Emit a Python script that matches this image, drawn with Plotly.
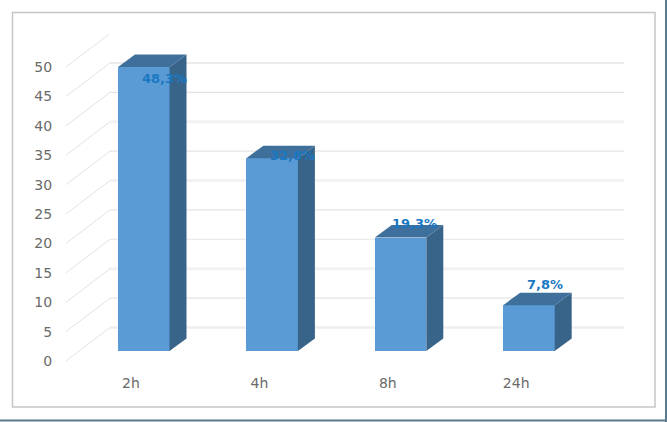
import plotly.graph_objects as go

categories = ["2h", "4h", "8h", "24h"]
values = [48.3, 32.8, 19.3, 7.8]
value_labels = ["48,3%", "32,8%", "19,3%", "7,8%"]
y_ticks = [0, 5, 10, 15, 20, 25, 30, 35, 40, 45, 50]

W, H = 667, 422
L, R, T, B = 66, 624, 34, 361
CAT_PX = 128.4
X0_PX = 131
Y_PX = 5.88

def ux(px):
    return px / CAT_PX

def uy(px):
    return px / Y_PX

wall_dx, wall_dy = ux(44), uy(33.5)
bar_dx, bar_dy = ux(17), uy(12.5)
lift = uy(10)
bar_left = ux(-13)
bar_w = ux(51.5)

positions = list(range(len(categories)))

# Styles of the back-wall lines, from value 0 up to value 50
grid_w = [2.5, 1, 3, 1, 1, 3, 1, 3, 1, 1.5, 1]
grid_c = ["#eeeeee", "#dddddd", "#f2f2f2", "#e6e6e6", "#dddddd", "#f2f2f2",
          "#dddddd", "#f2f2f2", "#dddddd", "#e4e4e4", "#e4e4e4"]

shapes = []
for t, w, c in zip(y_ticks, grid_w, grid_c):
    shapes.append(dict(type="line", layer="below", xref="x", yref="y",
                       x0=(L - X0_PX) / CAT_PX, y0=t,
                       x1=(L - X0_PX) / CAT_PX + wall_dx, y1=t + wall_dy,
                       line=dict(color="#e2e2e2", width=1)))
    shapes.append(dict(type="line", layer="below", xref="x", yref="y",
                       x0=(L - X0_PX) / CAT_PX + wall_dx, y0=t + wall_dy,
                       x1=(R - X0_PX) / CAT_PX, y1=t + wall_dy,
                       line=dict(color=c, width=w)))

def px_x(p):
    return (p - L) / (R - L)

def px_y(p):
    return (B - p) / (B - T)

shapes.append(dict(type="rect", layer="below", xref="paper", yref="paper",
                   x0=px_x(12.5), x1=px_x(655), y0=px_y(407), y1=px_y(12.5),
                   line=dict(color="#c6c6c6", width=1.5), fillcolor="rgba(0,0,0,0)"))
shapes.append(dict(type="line", layer="above", xref="paper", yref="paper",
                   x0=px_x(0), x1=px_x(667), y0=px_y(420.5), y1=px_y(420.5),
                   line=dict(color="#5a7a90", width=2)))
shapes.append(dict(type="line", layer="above", xref="paper", yref="paper",
                   x0=px_x(666), x1=px_x(666), y0=px_y(0), y1=px_y(422),
                   line=dict(color="#5a7a90", width=2)))

fig = go.Figure()
fig.add_trace(go.Bar(x=[p + bar_left + bar_w / 2 for p in positions], y=values,
                     base=[lift] * len(values), width=bar_w,
                     marker=dict(color="#5b9bd5", line=dict(width=0)),
                     hoverinfo="skip", showlegend=False))

for p, v in zip(positions, values):
    xr = p + bar_left + bar_w
    xl = p + bar_left
    fig.add_trace(go.Scatter(
        x=[xr, xr + bar_dx, xr + bar_dx, xr, xr],
        y=[lift, lift + bar_dy, lift + bar_dy + v, lift + v, lift],
        mode="lines", fill="toself", fillcolor="#39648a", line=dict(width=0),
        hoverinfo="skip", showlegend=False, cliponaxis=False))
    fig.add_trace(go.Scatter(
        x=[xl, xl + bar_dx, xr + bar_dx, xr, xl],
        y=[lift + v, lift + bar_dy + v, lift + bar_dy + v, lift + v, lift + v],
        mode="lines", fill="toself", fillcolor="#3f6f9b", line=dict(width=0),
        hoverinfo="skip", showlegend=False, cliponaxis=False))

x_shift = [33, 32.6, 27, 29]
y_shift = [-1.6, 13, 24.5, 31]
annotations = [dict(x=p, y=v, text=t, showarrow=False, xref="x", yref="y",
                    xshift=xs, yshift=ys, xanchor="center", yanchor="middle",
                    font=dict(family="DejaVu Sans", size=13, color="#1a78c2", weight="bold"))
               for p, v, t, xs, ys in zip(positions, values, value_labels, x_shift, y_shift)]

fig.update_layout(
    width=W, height=H, autosize=False,
    margin=dict(l=L, r=W - R, t=T, b=H - B),
    paper_bgcolor="white", plot_bgcolor="rgba(0,0,0,0)",
    shapes=shapes, annotations=annotations, showlegend=False, bargap=0,
    xaxis=dict(range=[(L - X0_PX) / CAT_PX, (R - X0_PX) / CAT_PX],
               tickmode="array", tickvals=positions, ticktext=categories,
               showgrid=False, zeroline=False, showline=False,
               ticks="outside", ticklen=9, tickcolor="rgba(0,0,0,0)",
               tickfont=dict(family="DejaVu Sans", size=14, color="#6a6a6a")),
    yaxis=dict(range=[0, (B - T) / Y_PX],
               tickmode="array", tickvals=y_ticks, ticktext=[str(t) for t in y_ticks],
               showgrid=False, zeroline=False, showline=False,
               ticks="outside", ticklen=10, tickcolor="rgba(0,0,0,0)",
               tickfont=dict(family="DejaVu Sans", size=14, color="#6a6a6a")),
)

fig.write_html("out.html", config={"displayModeBar": False},
               post_script="document.body.style.margin='0';document.body.style.overflow='hidden';")
